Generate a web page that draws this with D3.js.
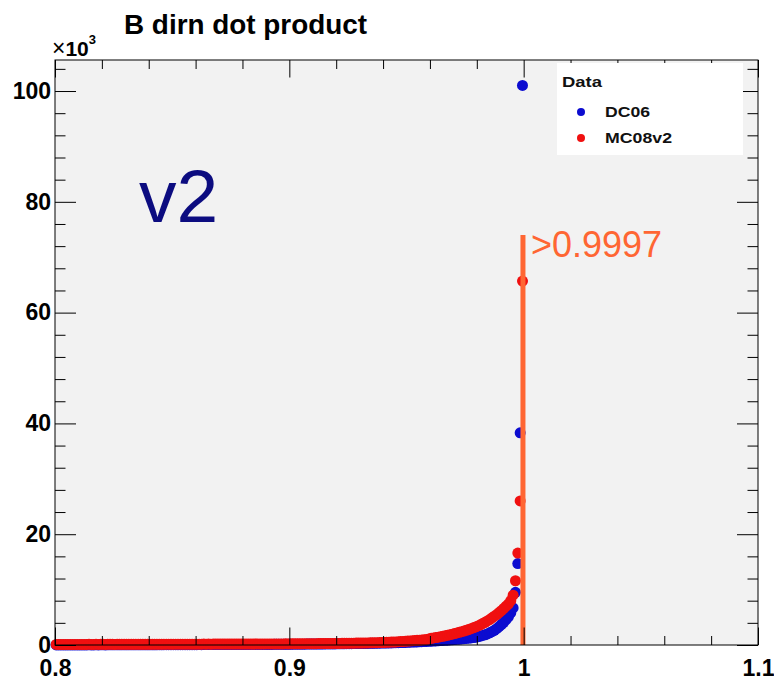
<!DOCTYPE html>
<html>
<head>
<meta charset="utf-8">
<script src="https://cdn.jsdelivr.net/npm/d3@7"></script>
<style>
  html, body { margin: 0; padding: 0; background: #ffffff; }
  svg { display: block; }
  text { font-family: "Liberation Sans", Arial, Helvetica, sans-serif; }
</style>
</head>
<body>
<svg id="chart" width="774" height="682"></svg>
<script>
// Histogram binning of the B direction dot product
const binLow = 0.8;
const binWidth = 0.001;

// Entries per bin, in units of 10^3
const dc06 = [
  .02,.02,.01,.02,.02,.02,.01,.02,.02,.02,
  .02,.02,.02,.02,.03,.02,.02,.03,.02,.03,
  .03,.02,.03,.03,.03,.03,.03,.03,.03,.03,
  .03,.04,.03,.03,.04,.03,.04,.04,.04,.04,
  .04,.04,.04,.04,.05,.04,.05,.05,.05,.05,
  .05,.05,.05,.06,.05,.06,.06,.06,.06,.06,
  .06,.07,.06,.07,.07,.07,.07,.07,.08,.07,
  .08,.08,.08,.08,.08,.09,.08,.09,.09,.09,
  .09,.10,.09,.10,.10,.10,.10,.11,.10,.11,
  .11,.11,.11,.12,.12,.12,.12,.13,.13,.13,
  .13,.14,.14,.14,.15,.15,.15,.16,.16,.16,
  .17,.17,.17,.18,.18,.19,.19,.19,.20,.20,
  .21,.21,.22,.22,.23,.23,.24,.25,.25,.26,
  .27,.27,.28,.29,.30,.31,.31,.32,.33,.34,
  .35,.36,.37,.38,.40,.41,.42,.44,.45,.47,
  .48,.50,.52,.54,.56,.58,.60,.62,.64,.66,
  .68,.71,.73,.76,.79,.82,.85,.88,.91,.95,
  .98,1.02,1.06,1.10,1.14,1.18,1.23,1.28,1.34,1.40,
  1.50,1.60,1.72,1.85,2.00,2.20,2.40,2.65,2.95,3.30,
  3.70,4.10,4.60,5.10,5.80,6.70,9.50,14.7,38.3,101.0
];

const mc08v2 = [
  .10,.11,.10,.11,.10,.11,.11,.10,.11,.11,
  .11,.10,.11,.11,.12,.11,.11,.12,.11,.12,
  .12,.11,.12,.12,.12,.11,.12,.12,.13,.12,
  .12,.13,.12,.13,.12,.13,.13,.12,.13,.13,
  .13,.13,.14,.13,.13,.14,.13,.14,.14,.13,
  .14,.14,.14,.15,.14,.14,.15,.14,.15,.15,
  .15,.15,.15,.16,.15,.16,.15,.16,.16,.16,
  .16,.16,.17,.16,.17,.17,.16,.17,.17,.17,
  .17,.18,.17,.18,.18,.18,.18,.19,.18,.19,
  .19,.19,.19,.20,.19,.20,.20,.20,.21,.20,
  .21,.21,.21,.22,.22,.22,.23,.23,.23,.24,
  .24,.24,.25,.25,.26,.26,.27,.27,.28,.28,
  .29,.29,.30,.31,.31,.32,.33,.33,.34,.35,
  .36,.36,.37,.38,.39,.40,.41,.42,.43,.45,
  .46,.48,.50,.52,.54,.56,.59,.61,.64,.67,
  .70,.73,.77,.80,.84,.88,.92,.96,1.01,1.07,
  1.20,1.27,1.34,1.42,1.50,1.58,1.67,1.76,1.86,1.96,
  2.06,2.17,2.28,2.40,2.52,2.65,2.79,2.94,3.10,3.27,
  3.45,3.65,3.87,4.10,4.35,4.60,4.90,5.20,5.50,5.85,
  6.20,6.60,7.00,7.40,8.00,9.00,11.6,16.6,26.0,65.7
];

const xMajorTicks = [0.8, 0.9, 1.0, 1.1];
const xTickLabels = ["0.8", "0.9", "1", "1.1"];
const yMajorTicks = [0, 20, 40, 60, 80, 100];
const yTickLabels = ["0", "20", "40", "60", "80", "100"];

const seriesNames = ["DC06", "MC08v2"];
const seriesColors = ["#0c0cd0", "#f01010"];

// Selection cut drawn over the peak
const cutValue = 0.9997;
const cutLineTop = 74;   // upper end of the cut marker, 10^3 entries

const svg = d3.select("#chart");
const frame = { left: 55, right: 758, top: 60, bottom: 645 };

const x = d3.scaleLinear().domain([0.8, 1.1]).range([frame.left, frame.right]);
const y = d3.scaleLinear().domain([0, 105.6]).range([frame.bottom, frame.top]);

const binCenter = i => binLow + binWidth * (i + 0.5);

// Plot area
svg.append("rect")
  .attr("x", frame.left).attr("y", frame.top)
  .attr("width", frame.right - frame.left).attr("height", frame.bottom - frame.top)
  .attr("fill", "#f2f2f2");

// Markers: DC06 first, MC08v2 on top
[dc06, mc08v2].forEach((vals, k) => {
  svg.append("g")
    .selectAll("circle")
    .data(vals)
    .join("circle")
    .attr("cx", (d, i) => x(binCenter(i)))
    .attr("cy", d => y(d))
    .attr("r", 5.5)
    .attr("fill", seriesColors[k]);
});

// Cut line and its label
svg.append("line")
  .attr("x1", x(cutValue)).attr("x2", x(cutValue))
  .attr("y1", y(0)).attr("y2", y(cutLineTop))
  .attr("stroke", "#ff6633").attr("stroke-width", 5);

svg.append("text")
  .attr("x", 531).attr("y", 257)
  .style("font-size", "36px")
  .attr("fill", "#ff6633")
  .text(">" + cutValue);

// Version tag
svg.append("text")
  .attr("x", 139).attr("y", 222)
  .style("font-size", "75px")
  .attr("fill", "#0c0c80")
  .text("v2");

// Axes: ticks drawn inward on all four sides
const minorX = d3.range(0.8, 1.1001, 0.02).map(v => +v.toFixed(2)).filter(v => !xMajorTicks.some(m => Math.abs(m - v) < 1e-9));
const minorY = d3.range(0, 105, 4).filter(v => v % 20 !== 0);

function styleAxis(g) {
  g.select(".domain").remove();
  g.selectAll(".tick line").attr("stroke", "#000").attr("stroke-width", 1);
}

function styleLabels(g) {
  g.selectAll("text")
    .attr("font-size", 23).attr("font-weight", "bold").attr("fill", "#000")
    .attr("font-family", "'Liberation Sans', Arial, sans-serif");
}

svg.append("g").attr("transform", `translate(0,${frame.bottom})`)
  .call(d3.axisBottom(x).tickValues(xMajorTicks).tickSize(-17.5).tickPadding(15)
    .tickFormat((d, i) => xTickLabels[i]))
  .call(styleAxis)
  .call(styleLabels);

svg.append("g").attr("transform", `translate(0,${frame.bottom})`)
  .call(d3.axisBottom(x).tickValues(minorX).tickSize(-9).tickFormat(""))
  .call(styleAxis);

svg.append("g").attr("transform", `translate(0,${frame.top})`)
  .call(d3.axisTop(x).tickValues(xMajorTicks).tickSize(-17.5).tickFormat(""))
  .call(styleAxis);

svg.append("g").attr("transform", `translate(0,${frame.top})`)
  .call(d3.axisTop(x).tickValues(minorX).tickSize(-9).tickFormat(""))
  .call(styleAxis);

svg.append("g").attr("transform", `translate(${frame.left},0)`)
  .call(d3.axisLeft(y).tickValues(yMajorTicks).tickSize(-21).tickPadding(4)
    .tickFormat((d, i) => yTickLabels[i]))
  .call(styleAxis)
  .call(styleLabels);

svg.append("g").attr("transform", `translate(${frame.left},0)`)
  .call(d3.axisLeft(y).tickValues(minorY).tickSize(-10.5).tickFormat(""))
  .call(styleAxis);

svg.append("g").attr("transform", `translate(${frame.right},0)`)
  .call(d3.axisRight(y).tickValues(yMajorTicks).tickSize(-21).tickFormat(""))
  .call(styleAxis);

svg.append("g").attr("transform", `translate(${frame.right},0)`)
  .call(d3.axisRight(y).tickValues(minorY).tickSize(-10.5).tickFormat(""))
  .call(styleAxis);

// Frame outline
svg.append("rect")
  .attr("x", frame.left).attr("y", frame.top)
  .attr("width", frame.right - frame.left).attr("height", frame.bottom - frame.top)
  .attr("fill", "none").attr("stroke", "#000").attr("stroke-width", 1);

// Axis multiplier
const mult = svg.append("text").attr("x", 52).attr("y", 56)
  .style("font-size", "21px").attr("fill", "#000");
mult.append("tspan").style("font-size", "23px").text("×");
mult.append("tspan").style("font-size", "21px").style("font-weight", "bold").text("10");
mult.append("tspan").style("font-size", "13px").style("font-weight", "bold").attr("dy", -12).text("3");

// Title
svg.append("text")
  .attr("x", 124).attr("y", 34)
  .style("font-size", "27px").style("font-weight", "bold").attr("fill", "#000")
  .attr("textLength", 243).attr("lengthAdjust", "spacingAndGlyphs")
  .text("B dirn dot product");

// Legend
const legend = svg.append("g");
legend.append("rect")
  .attr("x", 557).attr("y", 63).attr("width", 186).attr("height", 92)
  .attr("fill", "#ffffff");
legend.append("text")
  .attr("x", 562).attr("y", 87)
  .style("font-size", "14px").style("font-weight", "bold").attr("fill", "#111")
  .attr("textLength", 40).attr("lengthAdjust", "spacingAndGlyphs")
  .text("Data");
const legendLengths = [45, 67];
seriesNames.forEach((name, k) => {
  const yy = 112 + k * 26;
  legend.append("circle").attr("cx", 581).attr("cy", yy).attr("r", 4).attr("fill", seriesColors[k]);
  legend.append("text")
    .attr("x", 605).attr("y", yy + 5)
    .style("font-size", "14px").style("font-weight", "bold").attr("fill", "#111")
    .attr("textLength", legendLengths[k]).attr("lengthAdjust", "spacingAndGlyphs")
    .text(name);
});
</script>
</body>
</html>
